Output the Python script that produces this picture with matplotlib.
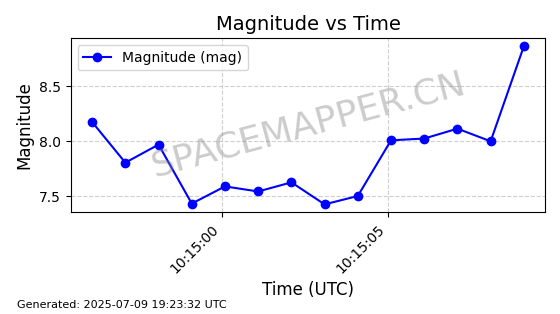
import pandas as pd
import matplotlib
matplotlib.use('Agg')
import matplotlib.pyplot as plt
import matplotlib.dates as mdates

# Dados
inicio = '2025-07-09 10:14:56.100'
n_pontos = 14
magnitudes = [8.175, 7.806, 7.97, 7.434, 7.59, 7.544, 7.627,
              7.427, 7.503, 8.009, 8.025, 8.115, 8.0, 8.864]
tempos = pd.date_range(inicio, periods=n_pontos, freq='1s')

titulo = 'Magnitude vs Time'
rodape = 'Generated: 2025-07-09 19:23:32 UTC'
marca = 'SPACEMAPPER.CN'

fig, ax = plt.subplots(figsize=(5.6, 3.14), dpi=100)
ax.plot(tempos, magnitudes, 'o-', color='blue', markersize=6, label='Magnitude (mag)')
ax.set_title(titulo, fontsize=14)
ax.set_xlabel('Time (UTC)', fontsize=12)
ax.set_ylabel('Magnitude', fontsize=12)
ax.grid(True, linestyle='--', alpha=0.6)
ax.legend(loc='upper left')

ax.xaxis.set_major_locator(mdates.SecondLocator(bysecond=range(0, 60, 5)))
ax.xaxis.set_major_formatter(mdates.DateFormatter('%H:%M:%S'))
plt.setp(ax.get_xticklabels(), rotation=45, ha='right')

ax.text(0.5, 0.5, marca, transform=ax.transAxes, fontsize=26, color='gray',
        alpha=0.4, ha='center', va='center', rotation=15)

fig.text(0.03, 0.02, rodape, fontsize=8)
fig.subplots_adjust(left=0.126, right=0.974, top=0.878, bottom=0.324)

plt.savefig('out.png')
